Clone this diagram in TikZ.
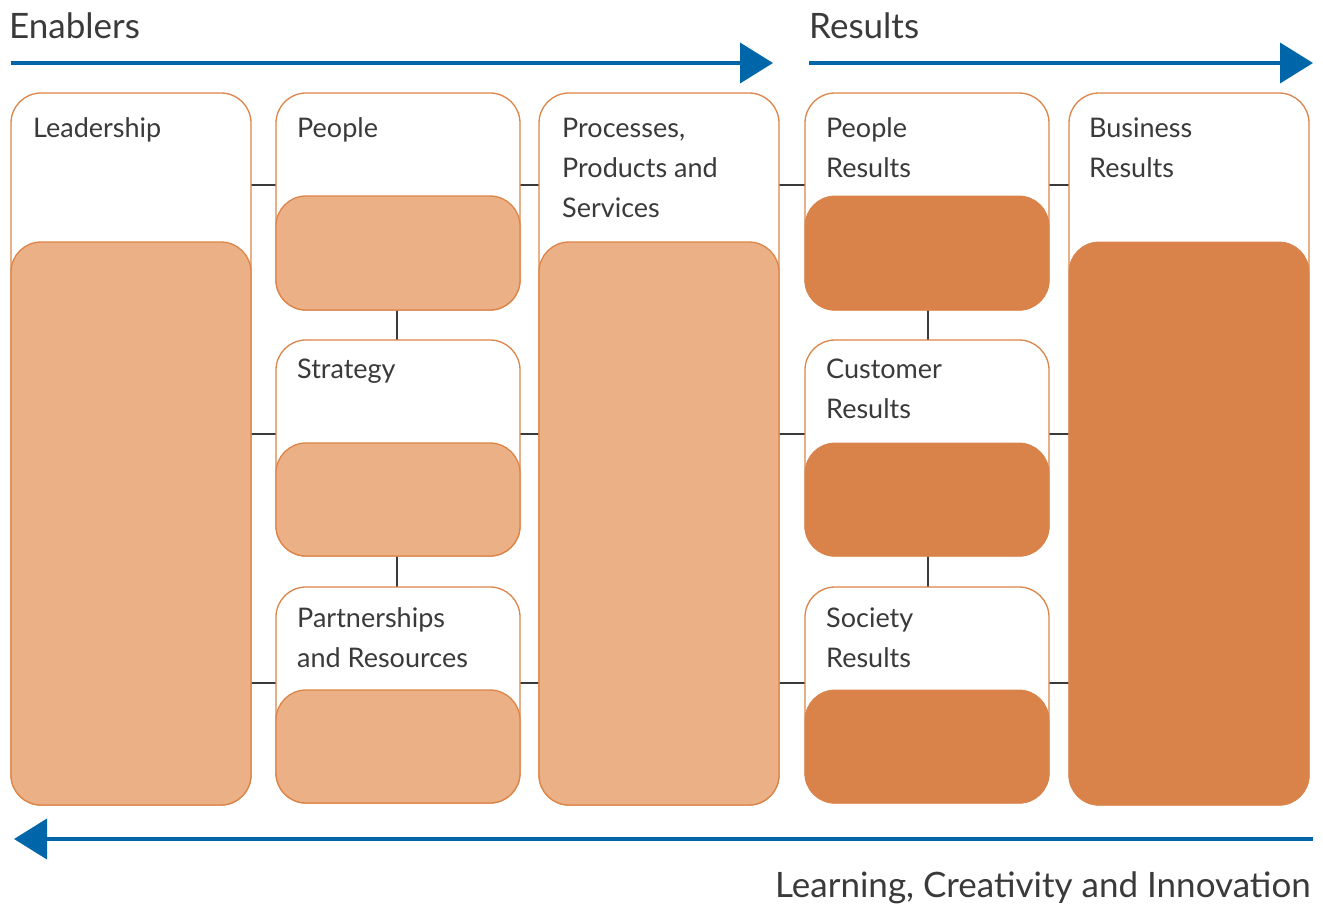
\documentclass[tikz,border=0pt]{standalone}
\usepackage{fontspec}
\setmainfont{Lato}
\usetikzlibrary{arrows.meta}
\definecolor{edge}{HTML}{DC8548}
\definecolor{lightfill}{HTML}{EBB085}
\definecolor{darkfill}{HTML}{D9834A}
\definecolor{arrowblue}{HTML}{0066AA}
\definecolor{txt}{HTML}{3A3A3A}
\tikzset{
  outerbox/.style={draw=edge, line width=1.3pt, fill=white, rounded corners=30pt},
  lightbox/.style={draw=edge, line width=1.3pt, fill=lightfill, rounded corners=30pt},
  darkbox/.style={draw=darkfill, line width=0.8pt, fill=darkfill, rounded corners=30pt},
  lbl/.style={anchor=base west, inner sep=0pt, font=\fontsize{27}{40}\selectfont, text=txt, align=left},
  head/.style={anchor=base west, inner sep=0pt, font=\fontsize{35}{42}\selectfont, text=txt},
  conn/.style={draw=txt, line width=1.8pt},
  flow/.style={draw=arrowblue, line width=4pt, -{Triangle[length=33pt,width=40pt]}}
}
\begin{document}
\begin{tikzpicture}[x=1pt,y=-1pt]
\useasboundingbox (0,0) rectangle (1323,905);
% connectors first (behind boxes)
\foreach \y in {185,434,683}{
  \draw[conn] (251,\y) -- (276,\y);
  \draw[conn] (520,\y) -- (539,\y);
  \draw[conn] (779,\y) -- (805,\y);
  \draw[conn] (1049,\y) -- (1069,\y);
}
\draw[conn] (397,310) -- (397,340);
\draw[conn] (397,556) -- (397,587);
\draw[conn] (928,310) -- (928,340);
\draw[conn] (928,556) -- (928,587);
% Leadership
\draw[outerbox] (11,93) rectangle (251,805);
\draw[lightbox] (11,242) rectangle (251,805);
\node[lbl] (lead) at (33,137) {Leadership};
% People
\draw[outerbox] (276,93) rectangle (520,310);
\draw[lightbox] (276,196) rectangle (520,310);
\node[lbl] (peop) at (297,137) {People};
% Strategy
\draw[outerbox] (276,340) rectangle (520,556);
\draw[lightbox] (276,443) rectangle (520,556);
\node[lbl] (strat) at (297,378) {Strategy};
% Partnerships
\draw[outerbox] (276,587) rectangle (520,803);
\draw[lightbox] (276,690) rectangle (520,803);
\node[lbl] (part) at (297,667) {Partnerships\\and Resources};
% Processes
\draw[outerbox] (539,93) rectangle (779,805);
\draw[lightbox] (539,242) rectangle (779,805);
\node[lbl] (proc) at (562,217) {Processes,\\Products and\\Services};
% People Results
\draw[outerbox] (805,93) rectangle (1049,310);
\draw[darkbox] (805,196) rectangle (1049,310);
\node[lbl] (pres) at (826,177) {People\\Results};
% Customer Results
\draw[outerbox] (805,340) rectangle (1049,556);
\draw[darkbox] (805,443) rectangle (1049,556);
\node[lbl] (cres) at (826,418) {Customer\\Results};
% Society Results
\draw[outerbox] (805,587) rectangle (1049,803);
\draw[darkbox] (805,690) rectangle (1049,803);
\node[lbl] (sres) at (826,667) {Society\\Results};
% Business Results
\draw[outerbox] (1069,93) rectangle (1309,805);
\draw[darkbox] (1069,242) rectangle (1309,805);
\node[lbl] (bres) at (1089,177) {Business\\Results};
% headings and arrows
\node[head] (enab) at (9,38) {Enablers};
\node[head] (resl) at (809,38) {Results};
\coordinate (a1s) at (11,63);
\coordinate (a1e) at (773,63);
\coordinate (a2s) at (809,63);
\coordinate (a2e) at (1313,63);
\coordinate (a3s) at (1313,839);
\coordinate (a3e) at (14,839);
\draw[flow] (a1s) -- (a1e);
\draw[flow] (a2s) -- (a2e);
\draw[flow] (a3s) -- (a3e);
\node[head, anchor=base east] (learn) at (1311,897) {Learning, Creativity and Innovation};
\end{tikzpicture}
\end{document}
